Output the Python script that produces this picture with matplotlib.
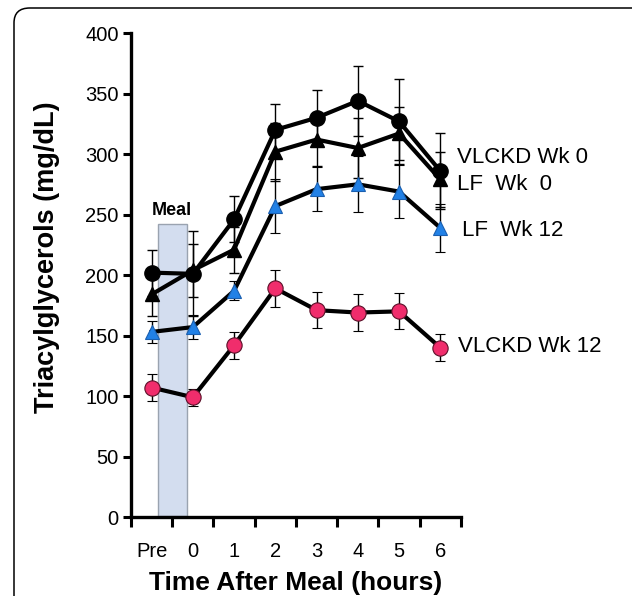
import matplotlib
matplotlib.use("Agg")
import matplotlib.pyplot as plt
from matplotlib.patches import FancyBboxPatch
import numpy as np

plt.rcParams['font.family'] = ['Liberation Sans', 'DejaVu Sans']

categories = ["Pre", "0", "1", "2", "3", "4", "5", "6"]
vlckd_wk0 = [202, 201, 246, 320, 330, 344, 327, 286]
vlckd_wk0_err = [19, 35, 19, 21, 23, 29, 35, 31]
lf_wk0 = [184, 204, 221, 302, 312, 305, 317, 279]
lf_wk0_err = [18, 22, 19, 24, 22, 25, 22, 23]
lf_wk12 = [153, 157, 187, 257, 271, 275, 269, 239]
lf_wk12_err = [9, 10, 8, 22, 18, 23, 22, 20]
vlckd_wk12 = [107, 99, 142, 189, 171, 169, 170, 140]
vlckd_wk12_err = [11, 7, 11, 15, 15, 15, 15, 11]
series_labels = ["VLCKD Wk 0", "LF  Wk  0", "LF  Wk 12", "VLCKD Wk 12"]
meal_height = 241
y_ticks = [0, 50, 100, 150, 200, 250, 300, 350, 400]

fig = plt.figure(figsize=(6.32, 5.96), dpi=100)
ax = fig.add_axes([0.2073, 0.1325, 0.522, 0.812])

x = np.arange(len(categories))

# outer rounded frame
frame = FancyBboxPatch((14/632, -0.2), 1.2, (596-8)/596 + 0.2,
                       boxstyle="round,pad=0,rounding_size=0.025",
                       transform=fig.transFigure, fill=False,
                       edgecolor="black", linewidth=1.1, clip_on=False)
fig.patches.append(frame)

# meal bar
ax.bar(0.5, meal_height, width=0.7, bottom=1, color="#d3ddef",
       edgecolor="#9aa3b0", linewidth=1.0, zorder=1)
ax.text(0.5, meal_height + 5, "Meal", ha="center", va="bottom",
        fontsize=13, fontweight="bold")

lw = 3.0
ekw = dict(ecolor="black", elinewidth=1.0, capsize=3.5, capthick=1.0)

ax.errorbar(x, lf_wk0, yerr=lf_wk0_err, color="black", lw=lw, marker="^",
            ms=10, mfc="black", mec="black", zorder=3, **ekw)
ax.errorbar(x, vlckd_wk0, yerr=vlckd_wk0_err, color="black", lw=lw, marker="o",
            ms=11, mfc="black", mec="black", zorder=4, **ekw)
ax.errorbar(x, lf_wk12, yerr=lf_wk12_err, color="black", lw=lw, marker="^",
            ms=10, mfc="#2281e6", mec="#1a5fb0", mew=0.8, zorder=5, **ekw)
ax.errorbar(x, vlckd_wk12, yerr=vlckd_wk12_err, color="black", lw=lw, marker="o",
            ms=11, mfc="#f02d6c", mec="#5a1028", mew=0.8, zorder=6, **ekw)

# series labels
label_x = [7.4, 7.4, 7.52, 7.42]
label_y = [297, 275, 237, 141]
for lx, ly, lab in zip(label_x, label_y, series_labels):
    ax.text(lx, ly, lab, ha="left", va="center", fontsize=16, clip_on=False)

ax.set_xlim(-0.5, 7.5)
ax.set_ylim(0, 400)
ax.set_xticks(np.arange(-0.5, 8, 1))
ax.set_xticklabels([])
ax.set_xticks(x, minor=True)
ax.set_xticklabels(categories, minor=True, fontsize=14.5)
ax.tick_params(axis="x", which="minor", length=0, pad=18)
ax.tick_params(axis="x", which="major", length=7, width=2.2, direction="out")
ax.set_yticks(y_ticks)
ax.set_yticklabels([str(v) for v in y_ticks], fontsize=14.5)
ax.tick_params(axis="y", length=6, width=2.2, direction="out", pad=3)

for s in ["top", "right"]:
    ax.spines[s].set_visible(False)
for s in ["left", "bottom"]:
    ax.spines[s].set_linewidth(2.4)

ax.set_xlabel("Time After Meal (hours)", fontsize=19, fontweight="bold", labelpad=7)
ax.set_ylabel("Triacylglycerols (mg/dL)", fontsize=19.5, fontweight="bold")
ax.yaxis.set_label_coords(-0.215, 0.536)

fig.savefig("out.png", dpi=100)
